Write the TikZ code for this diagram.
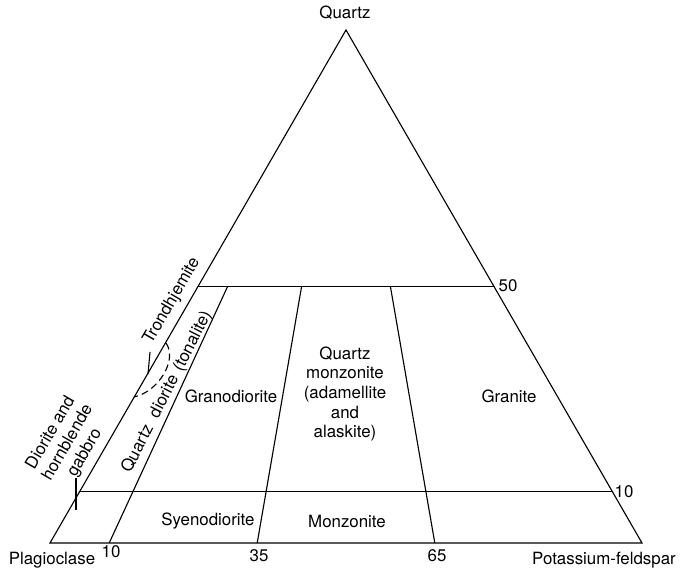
\documentclass[tikz,border=0pt]{standalone}
\usepackage{fontspec}
\setmainfont{TeX Gyre Heros}
\usetikzlibrary{calc}
\tikzset{
    rocklabel/.style={font=\fontsize{12}{14}\selectfont, inner sep=0pt, align=center},
    rockline/.style={black, line width=0.8pt}
}
\newcommand{\QAPframe}{
    \coordinate (Pl) at (50,543);
    \coordinate (Kf) at (642,543);
    \coordinate (Qz) at (346,30);
    \coordinate (L50) at ($(Pl)!0.5!(Qz)$);
    \coordinate (R50) at ($(Kf)!0.5!(Qz)$);
    \coordinate (L10) at ($(Pl)!0.1!(Qz)$);
    \coordinate (R10) at ($(Kf)!0.1!(Qz)$);
    \coordinate (B10) at ($(Pl)!0.10!(Kf)$);
    \coordinate (B35) at ($(Pl)!0.35!(Kf)$);
    \coordinate (B65) at ($(Pl)!0.65!(Kf)$);
    \coordinate (T10) at ($(B10)!0.5!(Qz)$);
    \coordinate (T35) at ($(B35)!0.5!(Qz)$);
    \coordinate (T65) at ($(B65)!0.5!(Qz)$);
    \draw[rockline] (Pl) -- (Kf) -- (Qz) -- cycle;
    \draw[rockline] (L50) -- (R50);
    \draw[rockline] (L10) -- (R10);
    \draw[rockline] (B10) -- (T10);
    \draw[rockline] (B35) -- (T35);
    \draw[rockline] (B65) -- (T65);
}

\begin{document}
\begin{tikzpicture}[x=0.025cm, y=-0.025cm]
    \useasboundingbox (0,0) rectangle (682,569);
    \QAPframe
    % corner and scale labels
    \node[rocklabel] (quartz) at (345,13) {Quartz};
    \node[rocklabel] (plag) at (52,560) {Plagioclase};
    \node[rocklabel] (kspar) at (604,560) {Potassium-feldspar};
    \node[rocklabel] (n50) at (508,286) {50};
    \node[rocklabel] (n10r) at (624,492) {10};
    \node[rocklabel] (n10b) at (111,552) {10};
    \node[rocklabel] (n35) at (259,556) {35};
    \node[rocklabel] (n65) at (437,556) {65};
    % fields
    \node[rocklabel] (granite) at (509,396) {Granite};
    \node[rocklabel] (qmonz) at (345,394) {Quartz\\monzonite\\(adamellite\\and\\alaskite)};
    \node[rocklabel] (granod) at (231,396) {Granodiorite};
    \node[rocklabel] (syenod) at (208,521) {Syenodiorite};
    \node[rocklabel] (monz) at (347,521) {Monzonite};
    \node[rocklabel, rotate=63] (qdior) at (167,392) {Quartz\hspace{0.6em}diorite\hspace{0.4em}(tonalite)};
    \node[rocklabel, rotate=60] (trond) at (172,301) {Trondhjemite};
    \node[rocklabel, rotate=60] (diorite) at (68,443) {Diorite and\\hornblende\\gabbro};
    % leaders
    \draw[rockline] (150,352) -- (148,374);
    \draw[rockline] (76,478) -- (76,510);
    \draw[rockline, dashed, dash pattern=on 5pt off 3pt] (166,343) .. controls (178,360) and (158,392) .. (134,397);
\end{tikzpicture}
\end{document}
